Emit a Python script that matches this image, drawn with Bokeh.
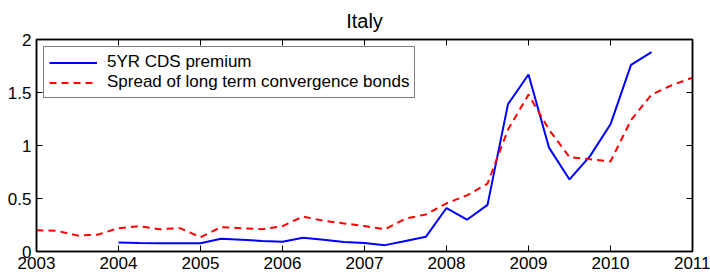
from bokeh.plotting import figure
from bokeh.models import LinearAxis, FixedTicker, Range1d
from bokeh.embed import file_html
from bokeh.resources import INLINE

# ---------------- data ----------------
title_text = "Italy"
series_names = ["5YR CDS premium", "Spread of long term convergence bonds"]

cds_dates = [2004.0, 2004.25, 2004.5, 2004.75, 2005.0, 2005.25, 2005.5, 2005.75,
             2006.0, 2006.25, 2006.5, 2006.75, 2007.0, 2007.25, 2007.5, 2007.75,
             2008.0, 2008.25, 2008.5, 2008.75, 2009.0, 2009.25, 2009.5, 2009.75,
             2010.0, 2010.25, 2010.5]
cds_values = [0.085, 0.080, 0.078, 0.078, 0.077, 0.120, 0.110, 0.100,
              0.092, 0.130, 0.110, 0.090, 0.080, 0.060, 0.100, 0.140,
              0.410, 0.300, 0.440, 1.390, 1.670, 0.980, 0.680, 0.900,
              1.200, 1.760, 1.880]

spread_dates = [2003.0, 2003.25, 2003.5, 2003.75, 2004.0, 2004.25, 2004.5, 2004.75,
                2005.0, 2005.25, 2005.5, 2005.75, 2006.0, 2006.25, 2006.5, 2006.75,
                2007.0, 2007.25, 2007.5, 2007.75, 2008.0, 2008.25, 2008.5, 2008.75,
                2009.0, 2009.25, 2009.5, 2009.75, 2010.0, 2010.25, 2010.5, 2010.75,
                2011.0]
spread_values = [0.200, 0.195, 0.150, 0.160, 0.220, 0.240, 0.210, 0.220,
                 0.135, 0.230, 0.220, 0.210, 0.240, 0.330, 0.290, 0.265,
                 0.240, 0.210, 0.310, 0.350, 0.455, 0.530, 0.640, 1.150,
                 1.480, 1.150, 0.890, 0.870, 0.850, 1.240, 1.480, 1.570,
                 1.640]

x_ticks = [2003, 2004, 2005, 2006, 2007, 2008, 2009, 2010, 2011]
x_tick_labels = ["2003", "2004", "2005", "2006", "2007", "2008", "2009", "2010", "2011"]
y_ticks = [0, 0.5, 1, 1.5, 2]
y_tick_labels = ["0", "0.5", "1", "1.5", "2"]

# ---------------- figure ----------------
FONT = "Liberation Sans"

p = figure(width=710, height=274, output_backend="svg", toolbar_location=None,
           x_range=Range1d(2003, 2011), y_range=Range1d(0, 2),
           min_border_left=36, min_border_right=18, min_border_top=38, min_border_bottom=23)
p.background_fill_color = "white"
p.border_fill_color = "white"
p.outline_line_color = "black"
p.outline_line_width = 1.5
p.grid.visible = False

p.title.text = title_text
p.title.align = "center"
p.title.text_font = FONT
p.title.text_font_size = "20px"
p.title.text_font_style = "normal"
p.title.text_color = "black"
p.title.standoff = 15

def style_axis(ax, labels, ticks, show_labels, size):
    ax.ticker = FixedTicker(ticks=ticks)
    ax.major_tick_in = 6
    ax.major_tick_out = 0
    ax.minor_tick_in = 0
    ax.minor_tick_out = 0
    ax.major_tick_line_color = "black"
    ax.axis_line_color = "black"
    ax.axis_line_width = 1.5
    ax.major_label_text_font = FONT
    ax.major_label_text_color = "black"
    if show_labels:
        ax.major_label_overrides = {t: l for t, l in zip(ticks, labels)}
        ax.major_label_text_font_size = size
        ax.major_label_standoff = 4 if ax.dimension == 0 else 5
    else:
        ax.major_label_overrides = {t: "" for t in ticks}
        ax.major_label_text_font_size = "1px"
        ax.major_label_standoff = 0

style_axis(p.xaxis[0], x_tick_labels, x_ticks, True, "17px")
style_axis(p.yaxis[0], y_tick_labels, y_ticks, True, "17px")

top_ax = LinearAxis()
style_axis(top_ax, x_tick_labels, x_ticks, False, "1px")
p.add_layout(top_ax, "above")
right_ax = LinearAxis()
style_axis(right_ax, y_tick_labels, y_ticks, False, "1px")
p.add_layout(right_ax, "right")

p.line(cds_dates, cds_values, line_color="#0000ff", line_width=2,
       legend_label=series_names[0])
p.line(spread_dates, spread_values, line_color="#ff0000", line_width=2,
       line_dash="7 5", legend_label=series_names[1])

lg = p.legend[0]
lg.location = "top_left"
lg.margin = 7
lg.padding = 5
lg.spacing = 0
lg.glyph_width = 48
lg.glyph_height = 19
lg.label_height = 19
lg.label_standoff = 10
lg.label_text_font = FONT
lg.label_text_font_size = "17px"
lg.label_text_color = "black"
lg.border_line_color = "black"
lg.border_line_width = 1
lg.background_fill_color = "white"
lg.background_fill_alpha = 1

open("out.html", "w").write(file_html(p, INLINE))
